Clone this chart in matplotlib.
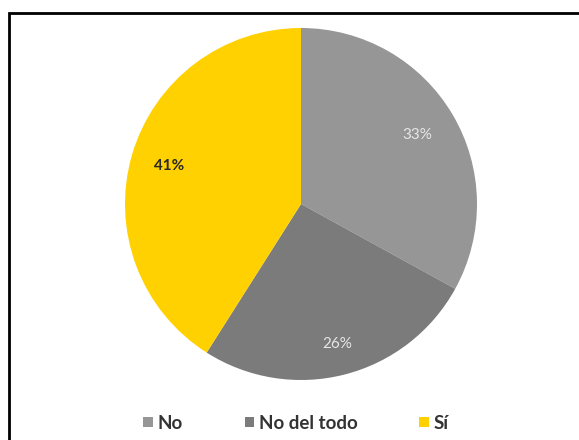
import matplotlib
matplotlib.use("Agg")
import matplotlib.pyplot as plt
from matplotlib.patches import Rectangle
import numpy as np

categories = ["No", "No del todo", "Sí"]
values = [33, 26, 41]
colors = ["#969696", "#7b7b7b", "#ffd100"]
label_colors = ["#e6e6e6", "#e6e6e6", "#2a2a2a"]
label_weights = ["normal", "normal", "bold"]
label_dist = [0.77, 0.82, 0.78]

plt.rcParams['font.family'] = ['Lato', 'DejaVu Sans']

fig = plt.figure(figsize=(5.79, 4.40), dpi=100)
fig.patch.set_facecolor("white")

ax = fig.add_axes([(301 - 176) / 579, (440 - 204 - 176) / 440, 352 / 579, 352 / 440])
wedges, texts, autotexts = ax.pie(values, colors=colors, startangle=90, counterclock=False,
                                  autopct=lambda p: f"{p:.0f}%", pctdistance=0.7,
                                  radius=1, wedgeprops=dict(linewidth=0))
ax.set_xlim(-1, 1)
ax.set_ylim(-1, 1)

for w, t, c, fw, d in zip(wedges, autotexts, label_colors, label_weights, label_dist):
    ang = np.deg2rad((w.theta1 + w.theta2) / 2)
    t.set_position((d * np.cos(ang), d * np.sin(ang)))
    t.set_color(c)
    t.set_fontweight(fw)
    t.set_fontsize(11)

frame = Rectangle((9 / 579, -0.05), 1.1, 0.9705 + 0.05, transform=fig.transFigure,
                  fill=False, edgecolor="black", linewidth=2, clip_on=False)
fig.patches.append(frame)

leg = fig.legend(wedges, categories, loc="center", bbox_to_anchor=(296 / 579, 1 - 423 / 440),
                 ncol=3, frameon=False, handlelength=0.5, handleheight=0.5, handletextpad=0.25,
                 columnspacing=3.3, prop=dict(family=['Lato', 'DejaVu Sans'], weight='bold', size=13.5))
for txt in leg.get_texts():
    txt.set_color("#333333")

fig.savefig("out.png", dpi=100)
